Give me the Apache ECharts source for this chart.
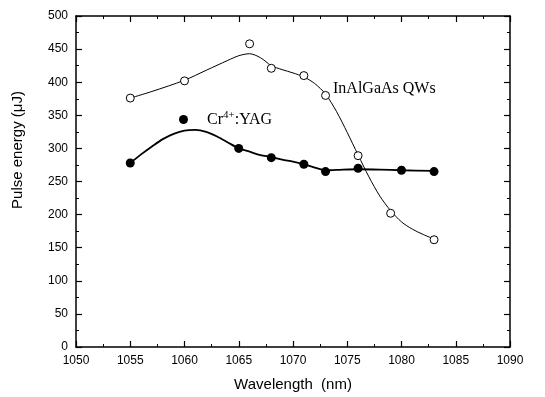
<!DOCTYPE html>
<html>
<head>
<meta charset="utf-8">
<script src="https://cdn.jsdelivr.net/npm/echarts@6/dist/echarts.min.js"></script>
<style>
  html, body { margin: 0; padding: 0; background: #fff; }
  #chart { width: 545px; height: 397px; }
</style>
</head>
<body>
<div id="chart"></div>
<script>
// measured points
const qwX = [1055, 1060, 1066, 1068, 1071, 1073, 1076, 1079, 1083]
const qwY = [376, 402, 458, 421, 410, 380, 289, 202, 162]
const yagX = [1055, 1065, 1068, 1071, 1073, 1076, 1080, 1083]
const yagY = [278, 300, 286, 276, 265, 270, 267, 265]

// fitted curves
const qwFitX = [1055, 1057, 1060, 1062, 1064, 1065, 1066, 1067, 1068, 1069, 1070, 1071, 1072, 1073, 1074, 1075, 1076, 1077, 1078, 1079, 1080, 1081, 1082, 1083]
const qwFitY = [376, 386, 403, 418, 433, 440, 443, 437, 425, 419, 414, 408, 398, 382, 356, 324, 290, 257, 228, 206, 189, 178, 170, 163]
const yagFitX = [1055, 1056, 1057, 1058, 1059, 1060, 1061, 1062, 1063, 1064, 1065, 1066, 1067, 1068, 1069, 1070, 1071, 1072, 1073, 1074, 1076, 1078, 1080, 1083]
const yagFitY = [278, 291, 303, 314, 322, 327, 328, 325, 318, 309, 300, 295, 290, 287, 283, 280, 276, 271, 267, 267.5, 268.5, 268, 267, 266]

const xTicks = { min: 1050, max: 1090, step: 5 }
const yTicks = { min: 0, max: 500, step: 50 }

const pair = (xs, ys) => xs.map((x, i) => [x, ys[i]])

const chart = echarts.init(document.getElementById('chart'))

const axisBase = {
  type: 'value',
  axisLine: { show: true, onZero: false, lineStyle: { color: '#000', width: 1.5 } },
  axisTick: { show: true, inside: true, length: 6, lineStyle: { color: '#000', width: 1.2 } },
  minorTick: { show: true, splitNumber: 2, length: 3, lineStyle: { color: '#000', width: 1 } },
  splitLine: { show: false },
}

const option = {
  animation: false,
  backgroundColor: '#fff',
  grid: { left: 76, right: 35, top: 16, bottom: 49 },
  legend: {
    data: ['Cr4+:YAG'],
    left: 174,
    top: 105,
    icon: 'circle',
    itemWidth: 9,
    itemHeight: 9,
    itemStyle: { color: '#000', borderWidth: 0, opacity: 1 },
    formatter: () => 'Cr{sup|4+}:YAG',
    textStyle: {
      fontFamily: 'Liberation Serif',
      fontSize: 16,
      color: '#000',
      padding: [0, 0, 0, 14],
      rich: {
        sup: { fontFamily: 'Liberation Serif', fontSize: 11, verticalAlign: 'top', padding: [0, 0, 8, 0] },
      },
    },
  },
  xAxis: [
    {
      ...axisBase,
      min: xTicks.min, max: xTicks.max, interval: xTicks.step,
      name: 'Wavelength  (nm)',
      nameLocation: 'middle',
      nameGap: 30,
      nameTextStyle: { fontFamily: 'Liberation Sans', fontSize: 15, color: '#000' },
      axisLabel: { fontFamily: 'Liberation Sans', fontSize: 12, color: '#000', margin: 8, formatter: v => String(v) },
    },
    {
      ...axisBase,
      position: 'top',
      min: xTicks.min, max: xTicks.max, interval: xTicks.step,
      axisLabel: { show: false },
    },
  ],
  yAxis: [
    {
      ...axisBase,
      min: yTicks.min, max: yTicks.max, interval: yTicks.step,
      axisLabel: { fontFamily: 'Liberation Sans', fontSize: 12, color: '#000', margin: 8 },
    },
    {
      ...axisBase,
      position: 'right',
      min: yTicks.min, max: yTicks.max, interval: yTicks.step,
      axisLabel: { show: false },
    },
  ],
  graphic: [
    {
      type: 'text',
      x: 18, y: 150,
      rotation: Math.PI / 2,
      style: {
        text: 'Pulse energy (\u03bcJ)',
        fontFamily: 'Liberation Sans', fontSize: 15, fill: '#000',
        align: 'center', verticalAlign: 'middle',
      },
    },
    {
      type: 'text',
      x: 333, y: 89,
      style: {
        text: 'InAlGaAs QWs',
        fontFamily: 'Liberation Serif', fontSize: 16, fill: '#000',
        align: 'left', verticalAlign: 'middle',
      },
    },
  ],
  series: [
    {
      name: 'QW fit',
      type: 'line',
      data: pair(qwFitX, qwFitY),
      smooth: 0.3,
      symbol: 'none',
      lineStyle: { color: '#000', width: 1 },
      z: 2,
    },
    {
      name: 'YAG fit',
      type: 'line',
      data: pair(yagFitX, yagFitY),
      smooth: 0.3,
      symbol: 'none',
      lineStyle: { color: '#000', width: 1.8 },
      z: 2,
    },
    {
      name: 'InAlGaAs QWs',
      type: 'scatter',
      data: pair(qwX, qwY),
      symbol: 'circle',
      symbolSize: 8,
      itemStyle: { color: '#fff', borderColor: '#000', borderWidth: 1, opacity: 1 },
      z: 3,
    },
    {
      name: 'Cr4+:YAG',
      type: 'scatter',
      data: pair(yagX, yagY),
      symbol: 'circle',
      symbolSize: 9,
      itemStyle: { color: '#000', opacity: 1 },
      z: 3,
    },
  ],
}

chart.setOption(option)
</script>
</body>
</html>
